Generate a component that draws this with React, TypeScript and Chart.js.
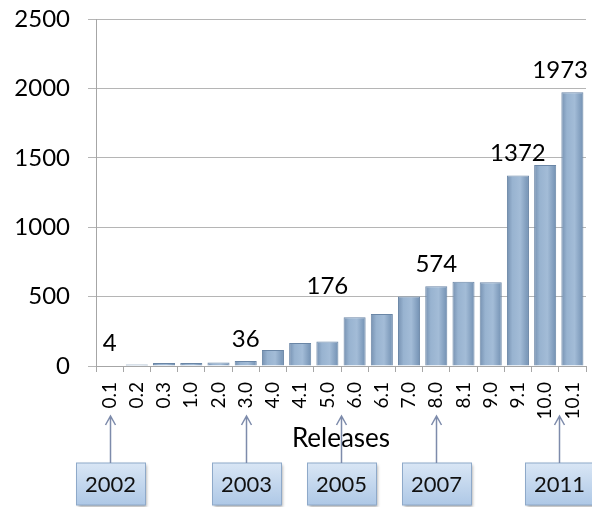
import { useEffect, useRef } from 'react';
import { Chart, registerables } from 'chart.js';

Chart.register(...registerables);

const releases = ['0.1', '0.2', '0.3', '1.0', '2.0', '3.0', '4.0', '4.1', '5.0', '6.0', '6.1', '7.0', '8.0', '8.1', '9.0', '9.1', '10.0', '10.1'];
const counts = [4, 10, 22, 22, 26, 36, 115, 166, 176, 351, 375, 500, 574, 607, 603, 1372, 1448, 1973];
const yTicks = [0, 500, 1000, 1500, 2000, 2500];
const labelledReleases = ['0.1', '3.0', '5.0', '8.0', '9.1', '10.1'];
const years = ['2002', '2003', '2005', '2007', '2011'];
// position of each year marker along the release axis (category index)
const yearPositions = [0, 5, 8.5, 12, 16.5];

const FONT = 'Lato, "Open Sans", sans-serif';

const overlayPlugin = {
  id: 'overlay',
  afterDatasetsDraw(chart: any, _args: any, opts: any) {
    const { ctx } = chart;
    const xs = chart.scales.x;
    const ys = chart.scales.y;
    ctx.save();
    ctx.font = `24px ${FONT}`;
    ctx.fillStyle = '#000';
    ctx.textAlign = 'center';
    ctx.textBaseline = 'middle';
    labelledReleases.forEach((r) => {
      const i = releases.indexOf(r);
      const v = counts[i];
      const text = String(v);
      const lift = (opts.lifts && opts.lifts[r]) || opts.lift;
      const w = ctx.measureText(text).width;
      let x = xs.getPixelForValue(i);
      const maxRight = chart.width - opts.edge;
      if (x + w / 2 > maxRight) x = maxRight - w / 2;
      ctx.fillText(text, x, ys.getPixelForValue(v) - lift);
    });
    ctx.restore();
  },
  afterDraw(chart: any, _args: any, opts: any) {
    const { ctx } = chart;
    const xs = chart.scales.x;
    const bw = opts.boxWidth;
    const bh = opts.boxHeight;
    const top = opts.boxTop;
    years.forEach((yr, k) => {
      const cx = Math.round(xs.getPixelForValue(yearPositions[k])) + 0.5;
      const left = Math.round(cx - bw / 2) + 0.5;
      ctx.save();
      ctx.shadowColor = 'rgba(0,0,0,0.35)';
      ctx.shadowBlur = 3;
      ctx.shadowOffsetX = 1;
      ctx.shadowOffsetY = 2;
      const g = ctx.createLinearGradient(0, top, 0, top + bh);
      g.addColorStop(0, '#d9e6f5');
      g.addColorStop(1, '#aec8e6');
      ctx.fillStyle = g;
      ctx.fillRect(left, top, bw, bh);
      ctx.restore();
      ctx.save();
      ctx.strokeStyle = '#8ea9c9';
      ctx.lineWidth = 1;
      ctx.strokeRect(left, top, bw, bh);
      ctx.fillStyle = '#111';
      ctx.font = `22px ${FONT}`;
      ctx.textAlign = 'center';
      ctx.textBaseline = 'middle';
      ctx.fillText(yr, cx, top + bh / 2 + 1);
      // arrow
      ctx.strokeStyle = '#7d8bab';
      ctx.lineWidth = 1.5;
      ctx.beginPath();
      ctx.moveTo(cx, top);
      ctx.lineTo(cx, opts.arrowTip);
      ctx.moveTo(cx - 5, opts.arrowTip + 9);
      ctx.lineTo(cx, opts.arrowTip);
      ctx.lineTo(cx + 5, opts.arrowTip + 9);
      ctx.stroke();
      ctx.restore();
    });
  },
};

export default function App() {
  const ref = useRef<HTMLCanvasElement | null>(null);
  useEffect(() => {
    if (!ref.current) return;
    const barFill = (c: any) => {
      const chart = c.chart;
      const xs = chart.scales.x;
      if (!xs || !xs.width || c.dataIndex === undefined) return '#8eaccb';
      const w = (xs.width / releases.length) * 0.81;
      const cx = xs.getPixelForValue(c.dataIndex);
      const g = chart.ctx.createLinearGradient(cx - w / 2, 0, cx + w / 2, 0);
      g.addColorStop(0, '#7691b1');
      g.addColorStop(0.25, '#98b3d0');
      g.addColorStop(0.6, '#a3bcd7');
      g.addColorStop(1, '#7290b2');
      return g;
    };
    const chart = new Chart(ref.current, {
      type: 'bar',
      data: {
        labels: releases,
        datasets: [
          {
            data: counts,
            backgroundColor: barFill,
            borderColor: '#6a86a6',
            borderWidth: 1,
            categoryPercentage: 0.9,
            barPercentage: 0.9,
          },
        ],
      },
      options: {
        responsive: false,
        animation: false,
        layout: { padding: { top: 19, right: 6, left: 0, bottom: 0 } },
        plugins: {
          legend: { display: false },
          tooltip: { enabled: false },
          overlay: {
            lift: 22,
            lifts: { '5.0': 55 },
            edge: 4,
            boxWidth: 69,
            boxHeight: 42,
            boxTop: 463,
            arrowTip: 416,
          },
        } as any,
        scales: {
          x: {
            afterFit: (s: any) => {
              s.height = 141;
              s.paddingLeft = 0;
              s.paddingRight = 0;
            },
            grid: { display: true, drawOnChartArea: false, offset: true, tickLength: 6, color: '#a6a6a6' },
            border: { display: true, color: '#a6a6a6' },
            ticks: {
              minRotation: 90,
              maxRotation: 90,
              autoSkip: false,
              padding: 10,
              color: '#000',
              font: { family: FONT, size: 19 },
            },
            title: {
              display: true,
              text: 'Releases',
              color: '#000',
              font: { family: FONT, size: 26 },
              padding: { top: 0, bottom: 53 },
            },
          },
          y: {
            min: 0,
            max: 2500,
            afterFit: (s: any) => {
              s.width = 96;
              s.paddingTop = 0;
              s.paddingBottom = 0;
            },
            afterBuildTicks: (s: any) => {
              s.ticks = yTicks.map((v) => ({ value: v }));
            },
            grid: { color: '#b5b5b5', tickLength: 8 },
            border: { display: true, color: '#a6a6a6' },
            ticks: {
              padding: 18,
              color: '#000',
              font: { family: FONT, size: 24 },
              callback: (v: any) => String(v),
            },
          },
        },
      },
      plugins: [overlayPlugin],
    });
    return () => chart.destroy();
  }, []);
  return (
    <div style={{ position: 'fixed', left: 0, top: 0, width: 592, height: 507, background: '#fff' }}>
      <canvas ref={ref} width={592} height={507} />
    </div>
  );
}
